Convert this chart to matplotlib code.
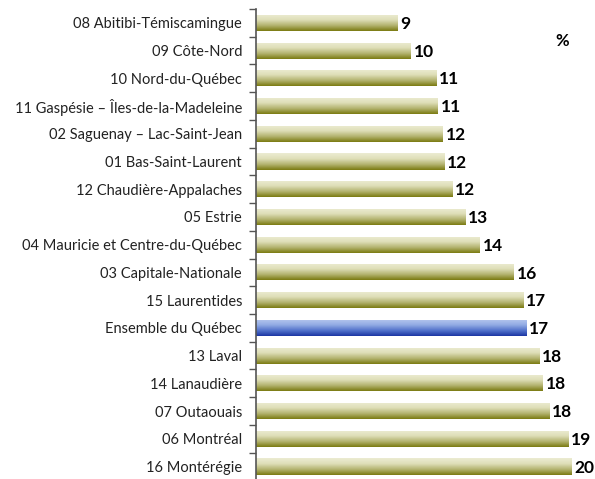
import matplotlib
matplotlib.use("Agg")
import matplotlib.pyplot as plt
import numpy as np
from matplotlib.colors import LinearSegmentedColormap

categories = [
    "08 Abitibi-Témiscamingue",
    "09 Côte-Nord",
    "10 Nord-du-Québec",
    "11 Gaspésie – Îles-de-la-Madeleine",
    "02 Saguenay – Lac-Saint-Jean",
    "01 Bas-Saint-Laurent",
    "12 Chaudière-Appalaches",
    "05 Estrie",
    "04 Mauricie et Centre-du-Québec",
    "03 Capitale-Nationale",
    "15 Laurentides",
    "Ensemble du Québec",
    "13 Laval",
    "14 Lanaudière",
    "07 Outaouais",
    "06 Montréal",
    "16 Montérégie",
]
values = [8.8, 9.6, 11.2, 11.3, 11.6, 11.7, 12.2, 13.0, 13.9, 16.0, 16.6, 16.8,
          17.6, 17.8, 18.2, 19.4, 19.6]
highlight = "Ensemble du Québec"
unit_label = "%"

plt.rcParams['font.family'] = ['Lato', 'DejaVu Sans']

W, H = 595, 479
fig = plt.figure(figsize=(W / 100, H / 100), dpi=100)
ax_left, ax_right = 256, 595
ax_top, ax_bot = 9, 480.4
ax = fig.add_axes([ax_left / W, (H - ax_bot) / H, (ax_right - ax_left) / W, (ax_bot - ax_top) / H])

n = len(categories)
y = np.arange(n)
bars = ax.barh(y, values, height=0.58, color='none', edgecolor='none')

olive = LinearSegmentedColormap.from_list('olive', ['#ececd2', '#dedeb8', '#b4b470', '#7b7b12'])
blue = LinearSegmentedColormap.from_list('blue', ['#b4c6ee', '#93ace4', '#5474cc', '#1c36a4'])
grad = np.linspace(0, 1, 64).reshape(-1, 1)

for cat, b, v in zip(categories, bars, values):
    cmap = blue if cat == highlight else olive
    x0, y0 = b.get_x(), b.get_y()
    w, h = b.get_width(), b.get_height()
    im = ax.imshow(grad, cmap=cmap, aspect='auto', extent=(x0, x0 + w, y0 + h, y0),
                   origin='upper', zorder=2, interpolation='bilinear')
    im.set_clip_path(b)
    ax.text(v + 0.18, b.get_y() + h / 2 + 0.04, f"{round(v):d}", va='center', ha='left',
            fontsize=12.5, fontweight='bold', color='black', clip_on=False)

ax.set_xlim(0, (ax_right - ax_left) / 16.1)
ax.set_ylim(n - 0.5, -0.5)
ax.set_yticks(y)
ax.set_yticklabels(categories, fontsize=10.5, color='#222222')
ax.set_yticks(np.arange(-0.5, n, 1), minor=True)
ax.tick_params(axis='y', which='major', length=0, pad=10)
ax.tick_params(axis='y', which='minor', length=5, width=1, color='#555555', direction='out')
ax.set_xticks([])
for s in ['top', 'right', 'bottom']:
    ax.spines[s].set_visible(False)
ax.spines['left'].set_color('#555555')
ax.spines['left'].set_linewidth(1.2)

fig.text(562 / W, 1 - 41 / H, unit_label, ha='center', va='center', fontsize=12,
         fontweight='bold')

fig.savefig('out.png', dpi=100)
